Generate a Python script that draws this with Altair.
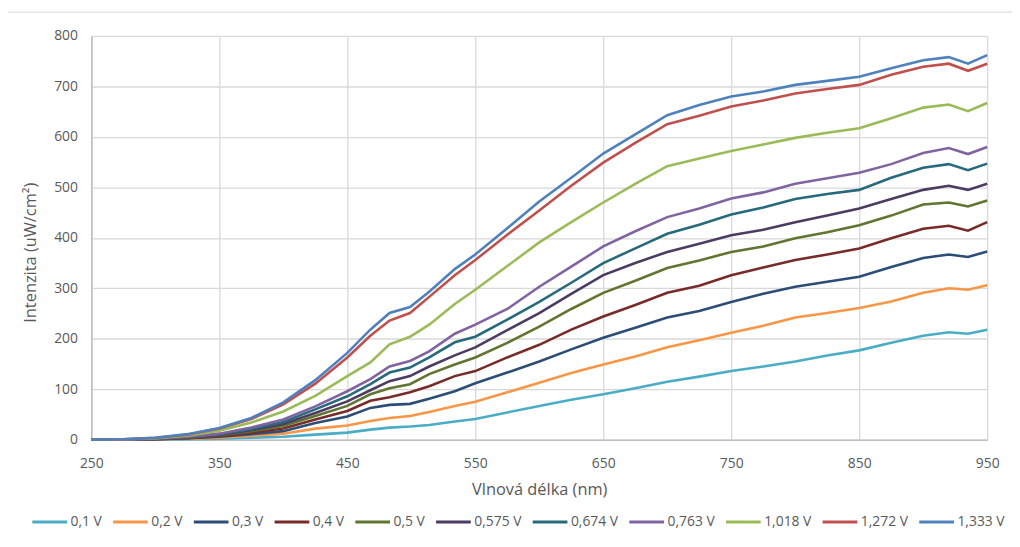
import altair as alt
import pandas as pd

wavelength = [250, 275, 300, 325, 350, 375, 400, 425, 450, 468, 483, 499, 514, 534, 550,
              575, 600, 625, 650, 675, 700, 725, 750, 775, 800, 825, 850, 875, 900, 920, 935, 950]

v_01 = [0, 0, 0, 1, 2, 4, 6, 10, 14, 20, 24, 26, 29, 36, 41, 54, 67, 79, 90, 102, 115, 125, 136, 145, 155, 167, 177, 192, 206, 213, 210, 218]
v_02 = [0, 0, 1, 2, 4, 8, 12, 22, 28, 37, 43, 47, 55, 67, 75, 94, 113, 132, 149, 165, 183, 197, 212, 226, 242, 251, 261, 274, 291, 300, 297, 306]
v_03 = [0, 0, 1, 3, 6, 11, 17, 33, 46, 63, 69, 71, 81, 96, 112, 133, 155, 179, 202, 222, 242, 255, 273, 289, 303, 313, 323, 342, 360, 367, 362, 373]
v_04 = [0, 0, 1, 3, 7, 14, 22, 40, 57, 77, 84, 94, 106, 126, 136, 163, 188, 218, 244, 267, 291, 305, 326, 341, 356, 367, 379, 399, 418, 424, 414, 431]
v_05 = [0, 0, 2, 4, 9, 17, 27, 47, 67, 90, 102, 110, 130, 149, 163, 192, 224, 259, 291, 315, 340, 355, 372, 383, 399, 411, 425, 444, 466, 470, 462, 474]
v_0575 = [0, 0, 2, 5, 10, 19, 31, 53, 76, 98, 116, 126, 145, 167, 183, 217, 251, 289, 326, 350, 372, 388, 405, 416, 431, 444, 458, 477, 495, 503, 495, 507]
v_0674 = [0, 0, 2, 5, 11, 21, 35, 60, 86, 110, 133, 143, 163, 193, 204, 238, 273, 311, 350, 379, 408, 426, 446, 460, 477, 487, 495, 519, 539, 546, 534, 547]
v_0763 = [0, 0, 2, 6, 12, 24, 40, 66, 96, 120, 145, 156, 175, 210, 228, 259, 303, 343, 383, 413, 441, 458, 478, 490, 507, 518, 529, 546, 568, 578, 566, 580]
v_1018 = [0, 1, 3, 8, 18, 34, 56, 87, 126, 153, 189, 204, 228, 269, 297, 344, 391, 431, 470, 507, 542, 557, 572, 585, 598, 608, 617, 637, 658, 664, 651, 667]
v_1272 = [0, 1, 4, 10, 22, 41, 70, 111, 163, 206, 236, 251, 283, 326, 356, 406, 454, 503, 549, 588, 625, 642, 660, 672, 686, 695, 703, 723, 739, 745, 731, 745]
v_1333 = [0, 1, 4, 11, 23, 43, 74, 118, 172, 218, 251, 263, 293, 338, 367, 419, 472, 519, 567, 605, 643, 663, 680, 690, 703, 711, 719, 736, 752, 758, 745, 762]

series_names = ["0,1 V", "0,2 V", "0,3 V", "0,4 V", "0,5 V", "0,575 V", "0,674 V",
                "0,763 V", "1,018 V", "1,272 V", "1,333 V"]
series_values = [v_01, v_02, v_03, v_04, v_05, v_0575, v_0674, v_0763, v_1018, v_1272, v_1333]
colors = ["#4BACC6", "#F79646", "#2C4D75", "#772C2A", "#5F7530", "#4D3B62",
          "#276A7C", "#8064A2", "#9BBB59", "#C0504D", "#4F81BD"]

x_ticks = [250, 350, 450, 550, 650, 750, 850, 950]
y_ticks = [0, 100, 200, 300, 400, 500, 600, 700, 800]

rows = []
for order, (name, vals) in enumerate(zip(series_names, series_values)):
    for w, v in zip(wavelength, vals):
        rows.append({"nm": w, "val": v, "series": name, "ord": order})
df = pd.DataFrame(rows)

FONT = "Open Sans"
TXT = "#595959"
W, H = 903, 407

border = alt.Chart(pd.DataFrame({"a": [0]})).mark_rect(
    fill=None, stroke="#D9D9D9", strokeWidth=1, clip=False
).encode(
    x=alt.value(-85), x2=alt.value(W + 60), y=alt.value(-24), y2=alt.value(H + 140)
)

lines = alt.Chart(df).mark_line(strokeWidth=2.6, clip=False).encode(
    x=alt.X("nm:Q",
            scale=alt.Scale(domain=[250, 950], nice=False, zero=False),
            axis=alt.Axis(values=x_ticks, title="Vlnová délka (nm)", grid=True,
                          gridColor="#D9D9D9", gridWidth=1.3, ticks=False,
                          domainColor="#BFBFBF", domainWidth=1.6, labelFlush=False,
                          labelPadding=17, titlePadding=11, format="d")),
    y=alt.Y("val:Q",
            scale=alt.Scale(domain=[0, 800], nice=False),
            axis=alt.Axis(values=y_ticks, title="Intenzita (uW/cm²)", grid=True,
                          gridColor="#D9D9D9", gridWidth=1.3, ticks=False,
                          domainColor="#BFBFBF", domainWidth=1.6, labelFlush=False,
                          labelPadding=14, titleX=-61, titleY=218,
                          titleBaseline="middle")),
    color=alt.Color("series:N",
                    scale=alt.Scale(domain=series_names, range=colors),
                    legend=alt.Legend(title=None, orient="none", direction="horizontal",
                                      legendX=-61, legendY=471,
                                      symbolType="stroke", symbolSize=1225,
                                      symbolStrokeWidth=3, labelOffset=2,
                                      columnPadding=4.4, padding=0)),
    order=alt.Order("ord:Q"),
)

chart = alt.layer(border, lines).properties(
    width=W, height=H,
    autosize=alt.AutoSizeParams(type="none"),
    padding={"left": 84, "top": 26, "right": 25, "bottom": 106},
).configure_view(stroke=None).configure_axis(
    labelFont=FONT, titleFont=FONT, labelColor=TXT, titleColor=TXT,
    labelFontSize=14, titleFontSize=16.5, titleFontWeight="normal",
).configure_legend(
    labelFont=FONT, labelColor=TXT, labelFontSize=14,
)

chart.save("out.html", embed_options={"renderer": "svg", "actions": False})
